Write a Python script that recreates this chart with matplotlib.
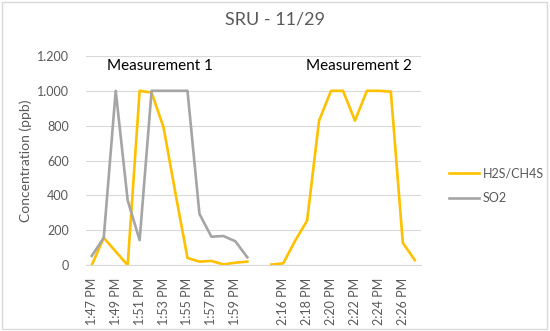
import numpy as np
import matplotlib.pyplot as plt
from matplotlib.patches import Rectangle

plt.rcParams['font.family'] = ['Lato', 'DejaVu Sans']

# category axis: first run, one empty slot, second run
times = ['1:47 PM', '1:48 PM', '1:49 PM', '1:50 PM', '1:51 PM', '1:52 PM', '1:53 PM',
         '1:54 PM', '1:55 PM', '1:56 PM', '1:57 PM', '1:58 PM', '1:59 PM', '2:00 PM',
         '',
         '2:15 PM', '2:16 PM', '2:17 PM', '2:18 PM', '2:19 PM', '2:20 PM', '2:21 PM',
         '2:22 PM', '2:23 PM', '2:24 PM', '2:25 PM', '2:26 PM', '2:27 PM']

nan = np.nan
h2s = [0, 157, 78, 0, 1000, 990, 790, 410, 41, 20, 24, 4, 14, 20,
       nan,
       3, 10, 140, 255, 829, 1000, 1000, 829, 1000, 1000, 995, 128, 29]
so2 = [53, 157, 1000, 372, 143, 1000, 1000, 1000, 1000, 294, 163, 167, 137, 45,
       nan,
       nan, nan, nan, nan, nan, nan, nan, nan, nan, nan, nan, nan, nan]

yellow = '#FFC000'
grey = '#A5A5A5'
txt = '#595959'

fig = plt.figure(figsize=(5.5, 3.31), dpi=100)
ax = fig.add_axes([0.156, 0.199, 0.609, 0.632])

x = np.arange(len(times))
ax.plot(x, h2s, color=yellow, lw=1.9, label='H2S/CH4S', solid_joinstyle='round')
ax.plot(x, so2, color=grey, lw=1.9, label='SO2', solid_joinstyle='round')

ax.set_xlim(-0.5, len(times) - 0.5)
ax.set_ylim(0, 1200)
ax.set_yticks(range(0, 1201, 200))
ax.set_yticklabels(['0', '200', '400', '600', '800', '1.000', '1.200'])
ax.set_xticks(x[::2])
ax.set_xticklabels(times[::2], rotation=90)

ax.grid(axis='y', color='#D9D9D9', lw=0.8)
ax.set_axisbelow(True)
for s in ['top', 'right', 'left']:
    ax.spines[s].set_visible(False)
ax.spines['bottom'].set_color('#D9D9D9')
ax.tick_params(length=0, colors=txt, labelsize=9)
ax.tick_params(axis='y', pad=12)
ax.tick_params(axis='x', pad=9)

ax.set_ylabel('Concentration (ppb)', color=txt, fontsize=10)
ax.yaxis.set_label_coords(-0.16, 0.5)
fig.text(0.5, 0.94, 'SRU - 11/29', ha='center', va='center', color=txt, fontsize=13)

ax.text(160 / 550, 1 - 66 / 331, 'Measurement 1', transform=fig.transFigure,
        ha='center', va='center', fontsize=11, color='black')
ax.text(359 / 550, 1 - 66 / 331, 'Measurement 2', transform=fig.transFigure,
        ha='center', va='center', fontsize=11, color='black')

fig.legend(loc='center left', bbox_to_anchor=(438 / 550, 1 - 186 / 331), frameon=False,
           fontsize=9, handlelength=2.4, handletextpad=0.25, labelspacing=1.0,
           labelcolor=txt)

fig.patches.append(Rectangle((0.003, 0.005), 0.992, 0.99, transform=fig.transFigure,
                             fill=False, edgecolor='#D9D9D9', lw=1))

fig.savefig('out.png', dpi=100)
